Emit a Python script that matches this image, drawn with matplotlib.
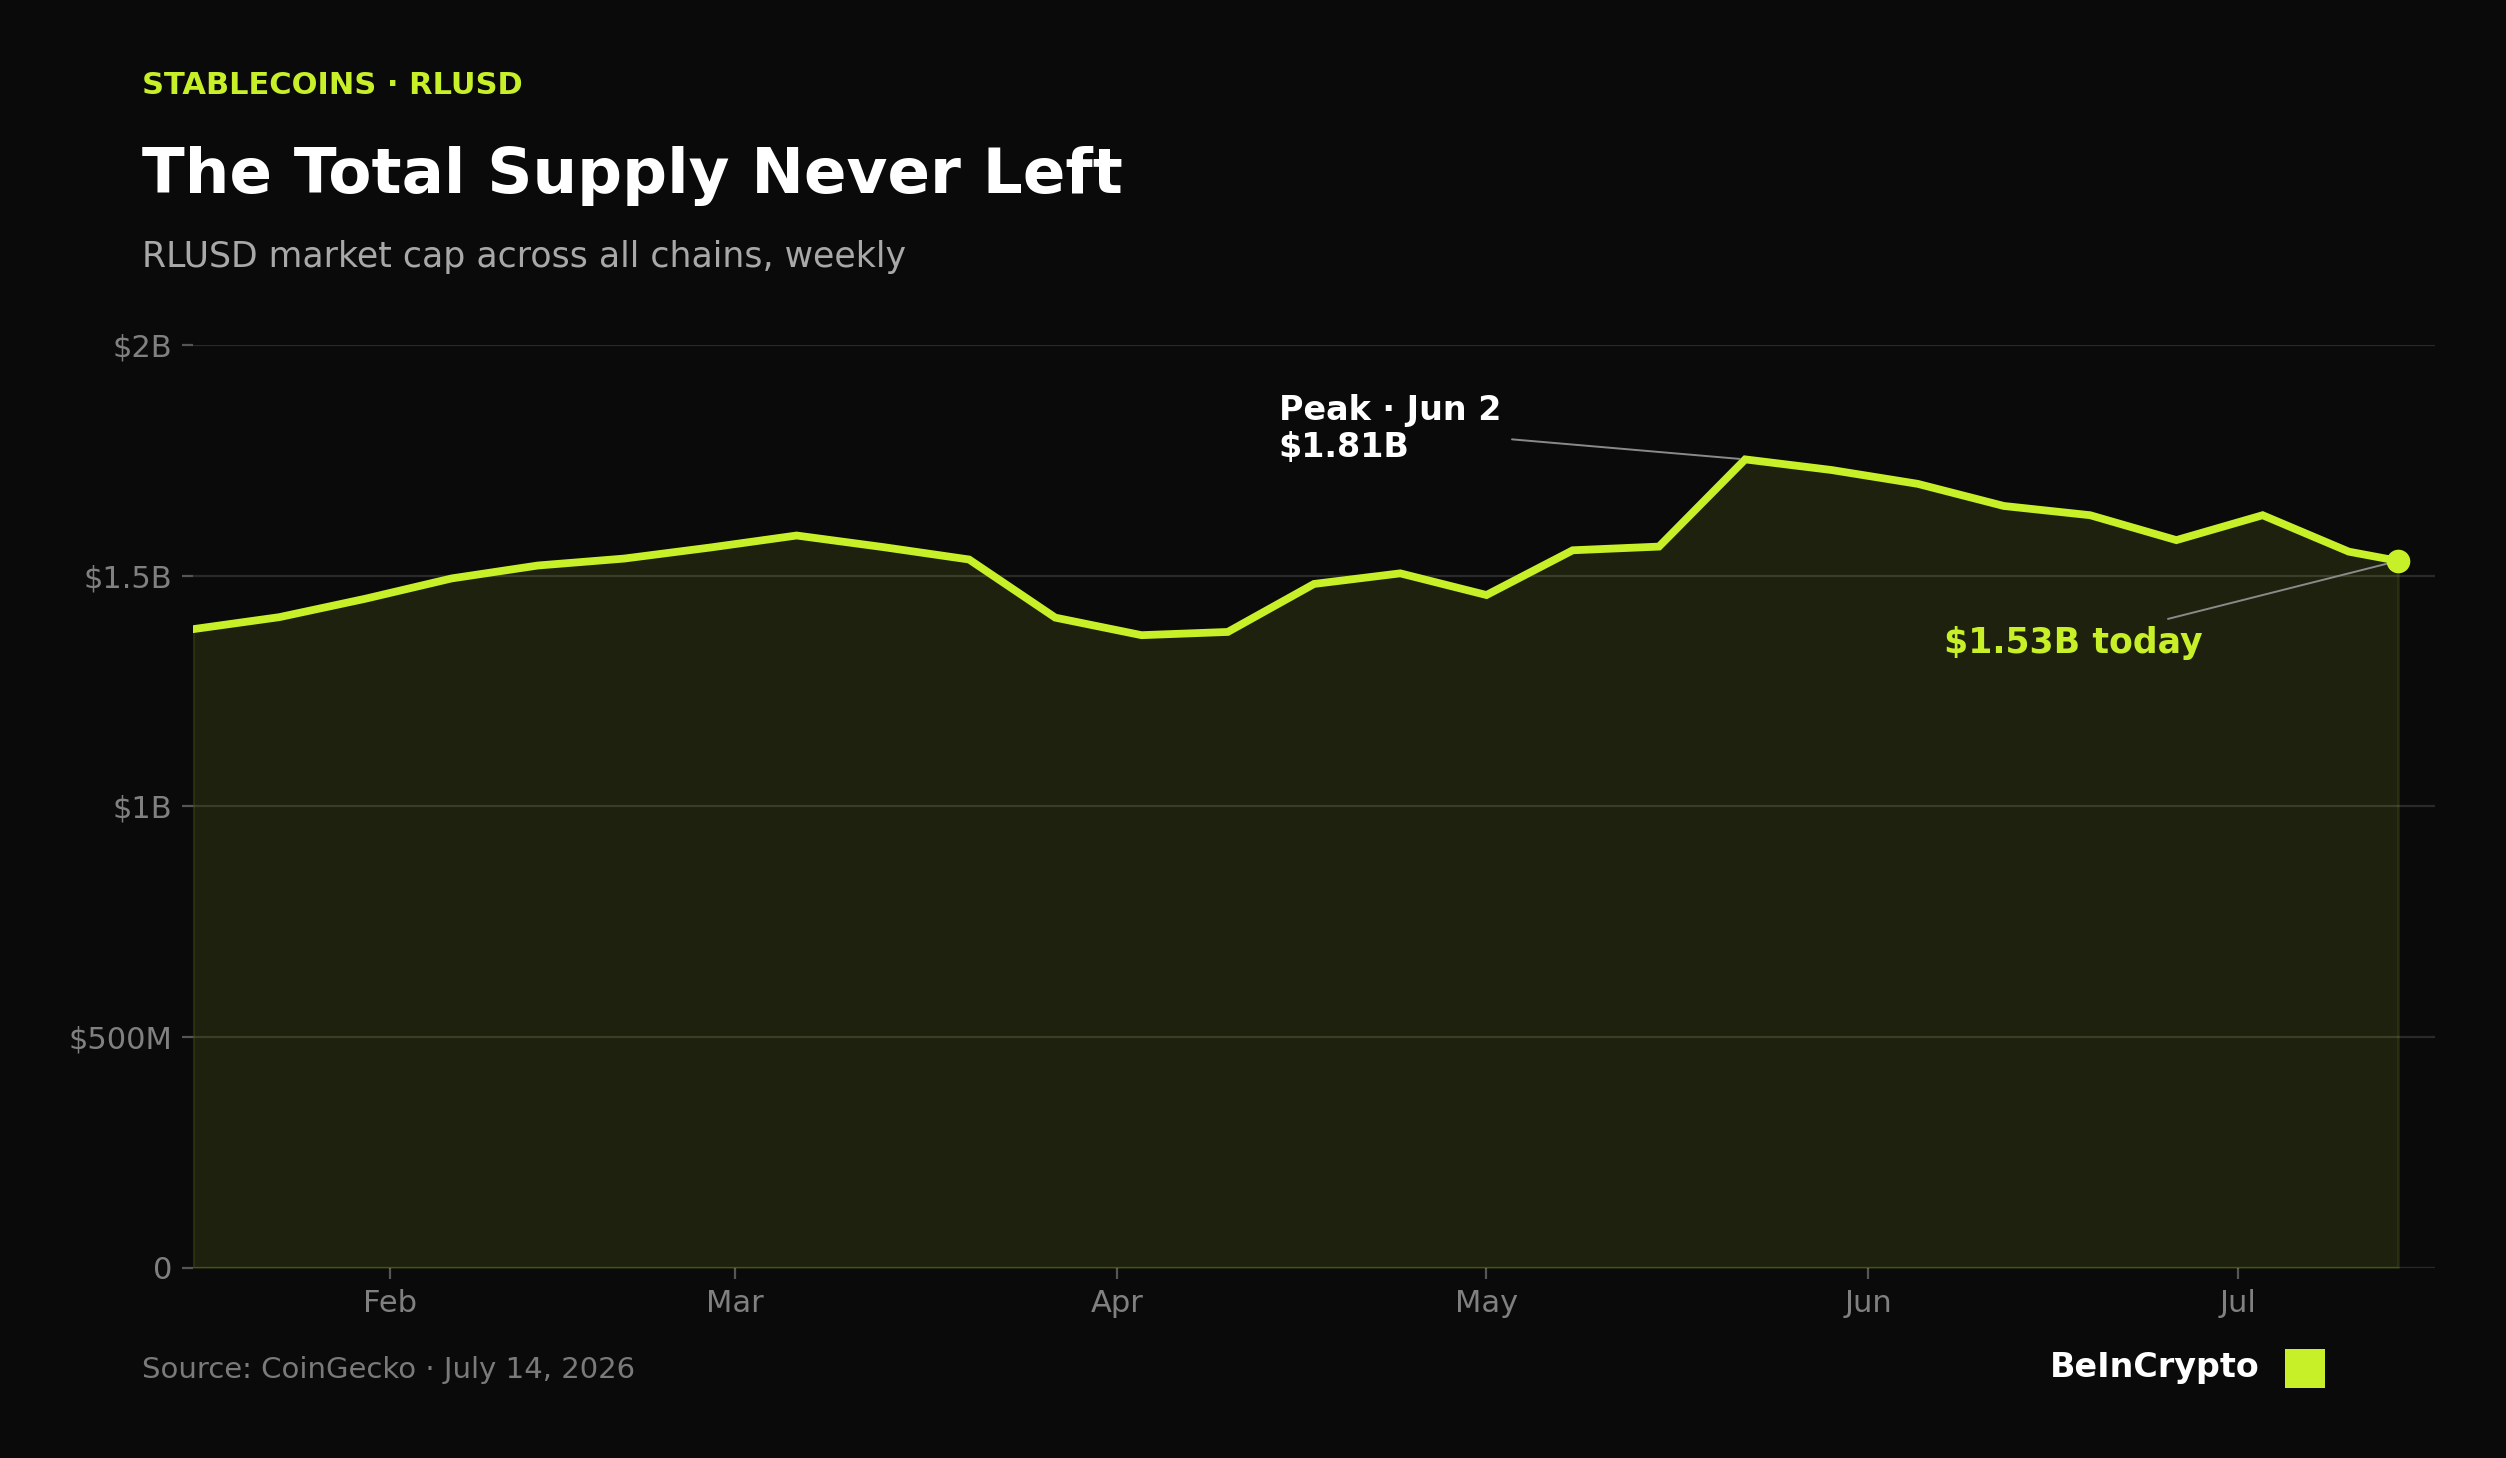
import matplotlib
matplotlib.use("Agg")
import matplotlib.pyplot as plt
import matplotlib.dates as mdates
from matplotlib.patches import Rectangle
import numpy as np
import datetime as dt

# ---------------- data ----------------
dates = [
    "2026-01-16", "2026-01-23", "2026-01-30", "2026-02-06", "2026-02-13",
    "2026-02-20", "2026-02-27", "2026-03-06", "2026-03-13", "2026-03-20",
    "2026-03-27", "2026-04-03", "2026-04-10", "2026-04-17", "2026-04-24",
    "2026-05-01", "2026-05-08", "2026-05-15", "2026-05-22", "2026-05-29",
    "2026-06-05", "2026-06-12", "2026-06-19", "2026-06-26", "2026-07-03",
    "2026-07-10", "2026-07-14",
]
supply_billions = [
    1.384, 1.410, 1.450, 1.494, 1.522,
    1.537, 1.561, 1.587, 1.562, 1.535,
    1.409, 1.371, 1.378, 1.482, 1.505,
    1.458, 1.555, 1.563, 1.752, 1.729,
    1.699, 1.651, 1.631, 1.577, 1.631,
    1.552, 1.532,
]
peak_index = 18
ytick_values = [0, 0.5, 1.0, 1.5, 2.0]
ytick_labels = ["0", "$500M", "$1B", "$1.5B", "$2B"]
xlim_end = "2026-07-17"

category = "STABLECOINS · RLUSD"
title = "The Total Supply Never Left"
subtitle = "RLUSD market cap across all chains, weekly"
peak_label = "Peak · Jun 2\n$1.81B"
today_label = "$1.53B today"
source = "Source: CoinGecko · July 14, 2026"
brand = "BeInCrypto"

# ---------------- style ----------------
BG = "#0a0a0a"
LIME = "#c8f028"
GRID = "#2a2a2a"
TICK = "#808080"

plt.rcParams["font.family"] = ["DejaVu Sans"]

x = [dt.datetime.strptime(d, "%Y-%m-%d") for d in dates]
y = np.array(supply_billions)

fig = plt.figure(figsize=(12.53, 7.29), dpi=200, facecolor=BG)
ax = fig.add_axes([0.0770, 0.1305, 0.8947, 0.6329])
ax.set_facecolor(BG)

ax.fill_between(x, y, 0, color=LIME, alpha=0.10, linewidth=1.0)
ax.plot(x, y, color=LIME, lw=2.8, solid_joinstyle="miter", zorder=3)
ax.plot([x[-1]], [y[-1]], "o", color=LIME, ms=7.5, zorder=4)

ax.set_ylim(0, 2.0)
ax.set_xlim(x[0], dt.datetime.strptime(xlim_end, "%Y-%m-%d"))
ax.set_yticks(ytick_values)
ax.set_yticklabels(ytick_labels)
ax.xaxis.set_major_locator(mdates.MonthLocator())
ax.xaxis.set_major_formatter(mdates.DateFormatter("%b"))

for s in ax.spines.values():
    s.set_visible(False)
ax.grid(axis="y", color=GRID, lw=0.8, zorder=0)
ax.set_axisbelow(True)
ax.tick_params(axis="both", colors="#555555", labelcolor=TICK, labelsize=11,
               length=4, width=0.8, pad=3.5)

# annotations
ax.annotate(peak_label, xy=(x[peak_index], y[peak_index]), xytext=(-168, 11),
            textcoords="offset points", ha="left", va="center",
            color="white", fontsize=12, fontweight="bold", linespacing=1.15,
            arrowprops=dict(arrowstyle="-", color="#8a8a8a", lw=0.7,
                            shrinkA=2, shrinkB=2))
ax.annotate(today_label, xy=(x[-1], y[-1]), xytext=(-117, -29.5),
            textcoords="offset points", ha="center", va="center",
            color=LIME, fontsize=12.5, fontweight="bold",
            arrowprops=dict(arrowstyle="-", color="#8a8a8a", lw=0.7,
                            shrinkA=2, shrinkB=4))

# header text
fig.text(0.0567, 0.9355, category, color=LIME, fontsize=11, fontweight="bold", va="baseline")
fig.text(0.0567, 0.8676, title, color="white", fontsize=22.6, fontweight="bold", va="baseline")
fig.text(0.0567, 0.8169, subtitle, color="#a8a8a8", fontsize=12.5, va="baseline")

# footer
fig.text(0.0567, 0.0549, source, color="#7a7a7a", fontsize=10.5, va="baseline")
fig.text(0.9015, 0.0556, brand, color="white", fontsize=12, fontweight="bold",
         va="baseline", ha="right")
fig.patches.append(Rectangle((0.9118, 0.0480), 0.016, 0.0267, transform=fig.transFigure,
                             facecolor=LIME, edgecolor="none"))

fig.savefig("out.png", dpi=200, facecolor=BG)
